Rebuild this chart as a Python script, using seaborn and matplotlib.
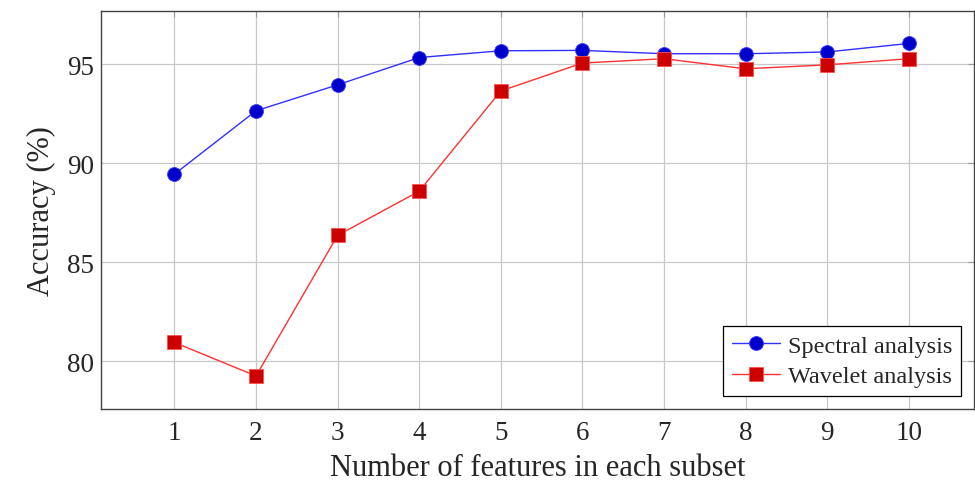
import pandas as pd
import matplotlib
matplotlib.use("Agg")
import matplotlib.pyplot as plt
import seaborn as sns

# Values
n_features = [1, 2, 3, 4, 5, 6, 7, 8, 9, 10]
spectral = [89.46, 92.66, 93.97, 95.35, 95.69, 95.71, 95.54, 95.54, 95.63, 96.06]
wavelet = [80.96, 79.27, 86.37, 88.60, 93.66, 95.07, 95.29, 94.78, 94.98, 95.29]
y_ticks = [80, 85, 90, 95]

df = pd.DataFrame({"features": n_features, "Spectral analysis": spectral,
                   "Wavelet analysis": wavelet})

sns.set_theme(style="white")
plt.rcParams["font.family"] = ["Liberation Serif", "DejaVu Serif"]

fig = plt.figure(figsize=(9.75, 4.85), dpi=100)
ax = fig.add_axes([0.1036, 0.1546, 0.8954, 0.8207])

sns.lineplot(data=df, x="features", y="Spectral analysis", ax=ax,
             color="#3030ff", linewidth=1.0, marker="o", markersize=10,
             markerfacecolor="#0000cc", markeredgecolor="#3a3aff",
             markeredgewidth=0.6, label="Spectral analysis", zorder=3)
sns.lineplot(data=df, x="features", y="Wavelet analysis", ax=ax,
             color="#ff3030", linewidth=1.0, marker="s", markersize=9.5,
             markerfacecolor="#cc0000", markeredgecolor="#ff5050",
             markeredgewidth=0.6, label="Wavelet analysis", zorder=3)

ax.set_xlim(0.1, 10.8)
ax.set_ylim(77.6, 97.7)
ax.set_xticks(n_features)
ax.set_yticks(y_ticks)
ax.grid(True, color="#c8c8c8", linewidth=0.9)
ax.set_axisbelow(True)
for s in ax.spines.values():
    s.set_color("#444444")
    s.set_linewidth(1.0)
ax.tick_params(direction="in", length=4, width=0.8, color="#999999",
               top=True, right=True, labelsize=19.5, pad=8)
ax.tick_params(axis="y", pad=5)
ax.set_xlabel("Number of features in each subset", fontsize=22, labelpad=6)
ax.set_ylabel("Accuracy (%)", fontsize=22, labelpad=8)

leg = ax.legend(loc="lower right", fontsize=17.5, frameon=True, fancybox=False,
                framealpha=1, edgecolor="black", borderpad=0.35,
                handlelength=2.0, handletextpad=0.3, labelspacing=0.35,
                borderaxespad=0.55)
leg.get_frame().set_linewidth(0.9)

fig.savefig("out.png", dpi=100)
